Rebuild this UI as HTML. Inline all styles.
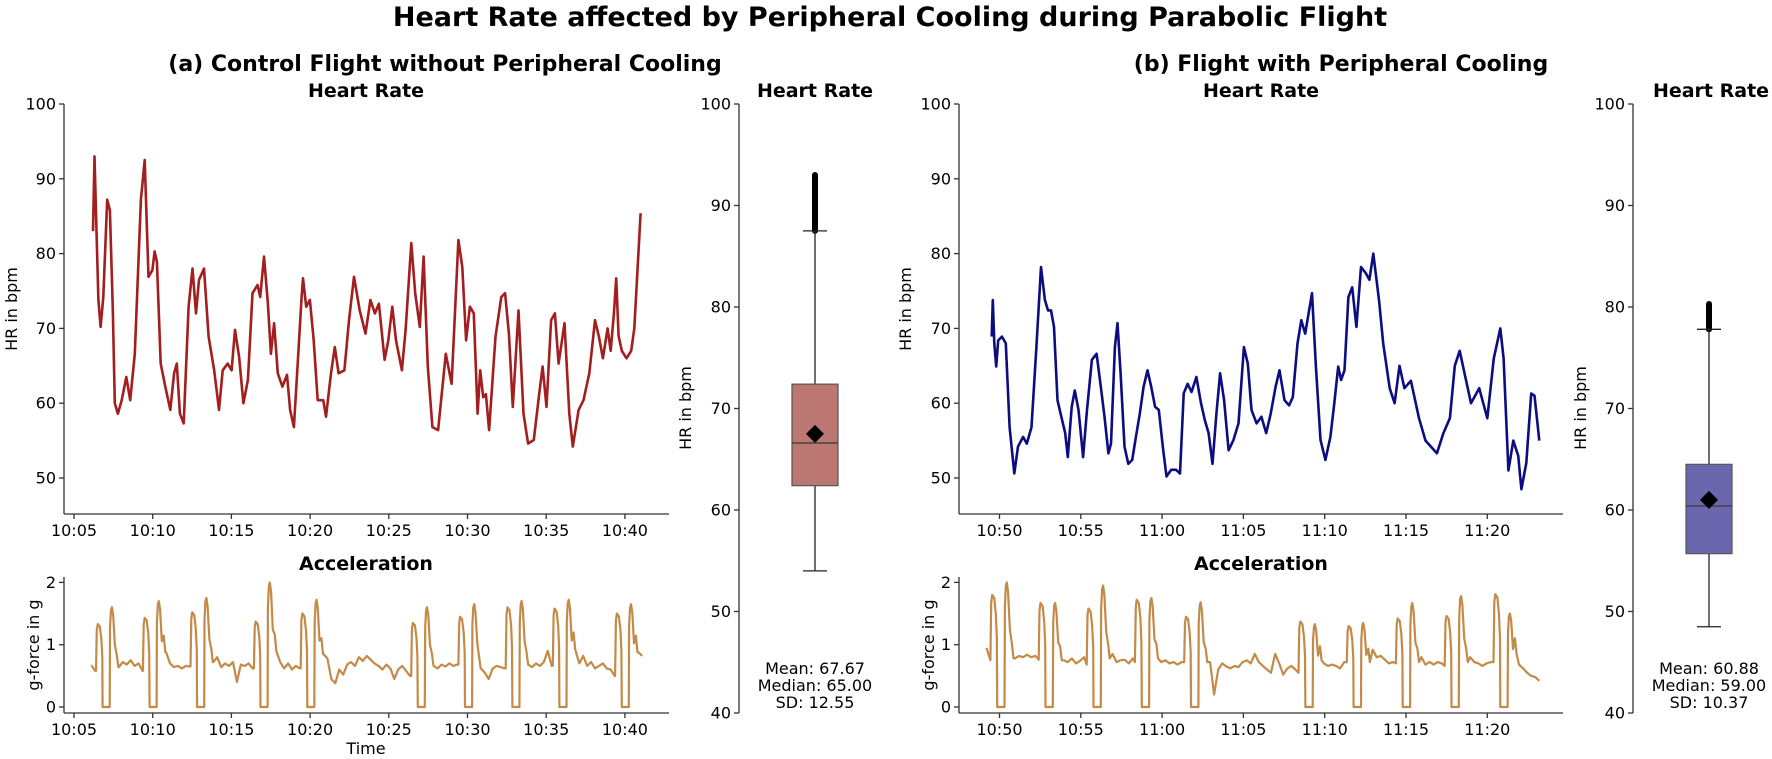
<!DOCTYPE html>
<html><head><meta charset="utf-8">
<style>
html,body{margin:0;padding:0;background:#fff;}
svg{display:block;font-family:"DejaVu Sans","Liberation Sans",sans-serif;}
.tk{font-size:16px;fill:#000;}
.ttl{font-weight:bold;fill:#000;}
</style></head>
<body>
<svg id="chart" width="1772" height="759" viewBox="0 0 1772 759" xmlns="http://www.w3.org/2000/svg">
<text class="ttl" x="890" y="26" text-anchor="middle" font-size="27">Heart Rate affected by Peripheral Cooling during Parabolic Flight</text>
<text class="ttl" x="445" y="71" text-anchor="middle" font-size="22">(a) Control Flight without Peripheral Cooling</text>
<text class="ttl" x="1341" y="71" text-anchor="middle" font-size="22">(b) Flight with Peripheral Cooling</text>
</svg>
<script>
// ---------- data ----------
const leftHrT=[6.21,6.30,6.43,6.55,6.69,6.86,7.11,7.28,7.47,7.59,7.79,8.03,8.32,8.57,8.86,9.25,9.49,9.73,9.98,10.12,10.27,10.51,10.80,11.12,11.36,11.53,11.73,11.97,12.28,12.53,12.75,12.94,13.26,13.55,13.91,14.21,14.45,14.76,15.01,15.23,15.49,15.76,16.05,16.34,16.66,16.83,17.07,17.32,17.51,17.71,17.95,18.24,18.53,18.73,18.97,19.21,19.46,19.55,19.75,19.99,20.23,20.48,20.84,21.01,21.33,21.57,21.81,22.18,22.47,22.79,23.15,23.52,23.83,24.12,24.37,24.73,24.97,25.22,25.46,25.83,26.07,26.43,26.68,26.97,27.21,27.48,27.77,28.13,28.62,28.99,29.42,29.67,29.91,30.15,30.40,30.64,30.81,31.00,31.17,31.37,31.78,32.15,32.39,32.63,32.88,33.24,33.56,33.85,34.21,34.53,34.77,35.02,35.31,35.55,35.79,36.16,36.47,36.69,37.06,37.37,37.74,38.10,38.35,38.6,38.9,39.1,39.3,39.45,39.6,39.8,40.1,40.4,40.6,41.0];
const leftHrV=[83,93,83,73.8,70.2,74.2,87.2,85.8,72,60,58.6,60.4,63.5,60.4,66.6,87.2,92.5,76.9,77.8,80.3,78.9,65.3,62.2,59.1,64,65.3,58.6,57.3,72.9,78,72,76.5,78,68.9,64.4,59.1,64.4,65.3,64.4,69.8,66.2,60,63.1,74.7,75.8,74.2,79.6,73.3,66.6,70.7,64,62.2,63.8,59.1,56.8,65.3,74.2,76.7,72.9,73.8,68.4,60.4,60.4,58.2,64,67.5,64,64.4,71.1,76.9,72.4,69.3,73.8,72,73.3,65.8,68.4,72.9,68.4,64.4,69.8,81.4,74.7,70.2,79.6,64.9,56.8,56.4,66.6,62.6,81.8,78.2,68.4,72.9,72,58.6,64.4,60.8,61.2,56.4,68.9,74.2,74.7,69.3,59.5,72.4,58.6,54.6,55.1,60.8,64.9,59.5,71.1,72,65.3,70.7,58.6,54.2,59.1,60.4,64,71.1,68.9,66,70,67,72,76.7,69,67,66,67,70,85.4];
const rightHrT=[49.52,49.59,49.68,49.80,49.92,50.15,50.39,50.62,50.91,51.14,51.45,51.68,51.97,52.27,52.55,52.79,52.98,53.17,53.35,53.57,53.80,54.04,54.20,54.44,54.63,54.86,55.14,55.38,55.68,55.97,56.23,56.46,56.70,56.86,57.10,57.26,57.45,57.69,57.92,58.16,58.39,58.63,58.86,59.10,59.33,59.57,59.80,60.04,60.27,60.56,60.86,61.10,61.33,61.57,61.81,62.11,62.39,62.63,62.86,63.10,63.34,63.57,63.81,64.09,64.39,64.70,65.03,65.27,65.50,65.81,66.11,66.40,66.68,66.98,67.22,67.53,67.81,68.04,68.33,68.56,68.80,69.22,69.46,69.74,70.04,70.35,70.59,70.83,71.01,71.22,71.46,71.69,71.95,72.23,72.52,72.75,72.99,73.34,73.6,74.0,74.3,74.6,74.9,75.3,75.8,76.2,76.9,77.3,77.7,78.0,78.3,78.5,79.0,79.5,80.0,80.4,80.8,81.0,81.3,81.6,81.9,82.1,82.4,82.7,82.9,83.2];
const rightHrV=[68.9,73.8,68,64.9,68.4,68.9,68,56.8,50.6,54.2,55.5,54.6,56.8,67.5,78.2,73.8,72.4,72.4,70.2,60.4,58.2,56,52.8,59.5,61.7,59.1,52.8,59.1,65.8,66.6,62.2,58.2,53.3,54.6,67.5,70.7,64,54.2,51.9,52.4,55.5,58.6,62.2,64.4,62.2,59.5,59.1,54.2,50.2,51.1,51.1,50.6,61.3,62.6,61.5,63.5,60,57.7,56,51.9,58.6,64,60.4,53.7,55.1,57.3,67.5,65.3,59.1,57.3,58.2,56,58.6,62.2,64.4,60.4,59.7,60.8,68,71.1,69.3,74.7,64.9,55.1,52.4,55.5,60,64.9,63.1,64.4,74.2,75.5,70.2,78.2,77.4,76.5,80,73.8,68,62,60,65,62,63,58,55,53.3,56,58,65,67,65,60,62,58,66,70,66,51,55,53,48.5,52,61.3,61,55];
// acceleration: zero-g start times (min past 10:00), pull-up peaks, pull-out peaks
const leftZeroStart=[6.82,9.8,12.82,16.85,19.82,26.84,29.84,32.85,35.84,39.8];
const leftPullUp=[1.33,1.43,1.52,1.37,1.5,1.35,1.45,1.6,1.58,1.5];
const leftPullOut=[1.6,1.7,1.75,2.0,1.72,1.6,1.65,1.7,1.72,1.65];
const leftBaseStart=6.1;
const leftBase=[.67,.58,.62,.65,.65,.65,.66,.64,.72,.68,.75,.66,.70,.58,.65,.65,.65,.65,.66,.88,.70,.64,.66,.62,.66,.65,.65,.65,.65,.65,.66,.72,.80,.64,.70,.66,.72,.40,.68,.66,.70,.62,.58,.65,.65,.65,.65,.90,.72,.62,.70,.60,.66,.62,.55,.65,.65,.65,.65,.85,.78,.45,.38,.60,.52,.68,.72,.66,.80,.74,.82,.76,.70,.66,.60,.68,.62,.45,.60,.66,.58,.50,.65,.65,.65,.65,.65,.66,.62,.68,.65,.70,.66,.68,.65,.65,.65,.65,.68,.62,.55,.45,.62,.66,.64,.62,.65,.65,.65,.65,.65,.68,.64,.70,.66,.72,.90,.66,.65,.65,.65,.65,.65,.92,.70,.82,.66,.72,.62,.66,.70,.62,.60,.50,.65,.65,.65,.65,.95,.88,.82];
const rightZeroStart=[49.86,52.83,55.78,58.75,61.78,68.81,71.78,74.8,77.8,80.8];
const rightPullUp=[1.8,1.67,1.58,1.72,1.45,1.37,1.3,1.42,1.46,1.81];
const rightPullOut=[2.0,1.67,1.95,1.75,1.68,1.33,1.35,1.67,1.78,1.5];
const rightBaseStart=49.2;
const rightBase=[.95,.75,.80,.80,.80,.80,.85,.78,.82,.80,.84,.80,.82,.76,.80,.80,.80,.80,.80,.75,.72,.78,.70,.74,.80,.68,.72,.72,.72,.72,.78,.85,.72,.75,.76,.70,.78,.72,.72,.72,.72,.72,.78,.72,.75,.70,.72,.68,.72,.72,.72,.72,.72,.72,.72,.72,.20,.60,.70,.65,.62,.66,.64,.72,.75,.70,.85,.72,.66,.60,.55,.85,.70,.52,.62,.66,.60,.55,.72,.72,.72,.72,.75,.70,.66,.68,.66,.62,.72,.72,.72,.72,.72,.72,.72,.92,.80,.82,.76,.70,.72,.70,.72,.72,.72,.72,.72,.80,.68,.72,.68,.72,.70,.66,.72,.72,.72,.72,.72,.80,.72,.70,.66,.70,.72,.72,.68,.72,.72,.72,.85,.68,.62,.55,.50,.48,.42];
// box plot stats: [whisker low, Q1, median, Q3, whisker high, mean, outlier max]
const leftBoxStats=[54,62.4,66.6,72.4,87.5,67.5,93];
const rightBoxStats=[48.5,55.7,60.4,64.5,77.8,61.0,80.3];
const leftStatsText=["Mean: 67.67","Median: 65.00","SD: 12.55"];
const rightStatsText=["Mean: 60.88","Median: 59.00","SD: 10.37"];
// ticks
const hrTicks=[50,60,70,80,90,100];
const boxTicks=[40,50,60,70,80,90,100];
const gTicks=[0,1,2];
const leftTimeTicks=[5,10,15,20,25,30,35,40];
const leftTimeLabels=["10:05","10:10","10:15","10:20","10:25","10:30","10:35","10:40"];
const rightTimeTicks=[50,55,60,65,70,75,80];
const rightTimeLabels=["10:50","10:55","11:00","11:05","11:10","11:15","11:20"];

// ---------- drawing ----------
const svg=document.getElementById('chart');
const NS='http://www.w3.org/2000/svg';
function el(tag,name,attrs,parent){
  const e=document.createElementNS(NS,tag);
  
  
  for(const k in attrs) e.setAttribute(k,attrs[k]);
  (parent||svg).appendChild(e);
  return e;
}
function txt(name,x,y,s,attrs){const t=el('text',name,Object.assign({x:x,y:y,'class':'tk'},attrs||{}));t.textContent=s;return t;}

const hrY=v=>104+(100-v)*7.48;
const gY=g=>707-62.3*g;
const boxY=v=>713-(v-40)*10.15;
const leftX=t=>74+(t-5)*15.74;
const rightX=t=>999.5+(t-50)*16.26;

function axes(pfx,x0,x1,y0,y1,yTicks,yFn,xTicks,xLabels,xFn,bottom){
  el('line',pfx+'-y-axis',{x1:x0,y1:y0,x2:x0,y2:y1,stroke:'#333','stroke-width':1.3});
  yTicks.forEach(v=>{const y=yFn(v);
    el('line',pfx+'-y-tick',{x1:x0-5,y1:y,x2:x0,y2:y,stroke:'#333','stroke-width':1.3});
    txt(pfx+'-y-tick-label',x0-8,y+5.5,String(v),{'text-anchor':'end'});});
  if(bottom){
    el('line',pfx+'-x-axis',{x1:x0,y1:y1,x2:x1,y2:y1,stroke:'#333','stroke-width':1.3});
    xTicks.forEach((t,i)=>{const x=xFn(t);
      el('line',pfx+'-x-tick',{x1:x,y1:y1,x2:x,y2:y1+5,stroke:'#333','stroke-width':1.3});
      txt(pfx+'-x-tick-label',x,y1+22,xLabels[i],{'text-anchor':'middle'});});
  }
}
function poly(name,ts,vs,xFn,yFn,color,w){
  const d=ts.map((t,i)=>(i?'L':'M')+xFn(t).toFixed(1)+' '+yFn(vs[i]).toFixed(1)).join(' ');
  el('path',name,{d:d,fill:'none',stroke:color,'stroke-width':w,'stroke-linejoin':'round'});
}
function accelSeries(zs,pre,post,baseStart,base){
  const pts=[];
  const inWin=t=>zs.some(z=>t>=z-0.42&&t<=z+1.0);
  base.forEach((v,i)=>{const t=baseStart+0.25*i; if(!inWin(t)) pts.push([t,v]);});
  const bAt=t=>base[Math.max(0,Math.min(base.length-1,Math.round((t-baseStart)/0.25)))];
  zs.forEach((z,i)=>{const p=pre[i],q=post[i];
    pts.push([z-0.42,bAt(z-0.42)],[z-0.37,p*0.93],[z-0.31,p],[z-0.18,p*0.97],[z-0.08,p*0.82],[z-0.02,p*0.6],[z,0],[z+0.45,0],[z+0.47,q*0.8],[z+0.53,q*0.97],[z+0.59,q],[z+0.67,q*0.92],[z+0.78,q*0.62],[z+0.9,bAt(z+1)*1.3],[z+1.0,bAt(z+1)]);
  });
  pts.sort((a,b)=>a[0]-b[0]);
  return pts;
}
function box(pfx,cx,half,st,fill,texts){
  const [lo,q1,med,q3,hi,mean,omax]=st;
  el('line',pfx+'-outliers',{x1:cx,y1:boxY(hi),x2:cx,y2:boxY(omax),stroke:'#000','stroke-width':6,'stroke-linecap':'round'});
  el('line',pfx+'-whisker-high',{x1:cx,y1:boxY(q3),x2:cx,y2:boxY(hi),stroke:'#222','stroke-width':1.3});
  el('line',pfx+'-whisker-low',{x1:cx,y1:boxY(q1),x2:cx,y2:boxY(lo),stroke:'#222','stroke-width':1.3});
  el('line',pfx+'-cap-high',{x1:cx-12,y1:boxY(hi),x2:cx+12,y2:boxY(hi),stroke:'#222','stroke-width':1.3});
  el('line',pfx+'-cap-low',{x1:cx-12,y1:boxY(lo),x2:cx+12,y2:boxY(lo),stroke:'#222','stroke-width':1.3});
  el('rect',pfx+'-box',{x:cx-half,y:boxY(q3),width:2*half,height:boxY(q1)-boxY(q3),fill:fill,stroke:'#555','stroke-width':1.2});
  el('line',pfx+'-median',{x1:cx-half,y1:boxY(med),x2:cx+half,y2:boxY(med),stroke:'#444','stroke-width':1.5});
  const my=boxY(mean);
  el('path',pfx+'-mean-marker',{d:`M${cx} ${my-9}L${cx+9} ${my}L${cx} ${my+9}L${cx-9} ${my}Z`,fill:'#000'});
  texts.forEach((s,i)=>txt(pfx+'-stats-line',cx,674+17*i,s,{'text-anchor':'middle','font-size':'14'}));
}

// ---- left panel (a) ----
axes('left-hr',64,669,104,514,hrTicks,hrY,leftTimeTicks,leftTimeLabels,leftX,true);
poly('left-hr-line',leftHrT,leftHrV,leftX,hrY,'#a31e1e',2.6);
txt('left-hr-title',366,97,'Heart Rate',{'class':'ttl','text-anchor':'middle','font-size':'19'});
txt('left-hr-y-title',0,0,'HR in bpm',{'text-anchor':'middle',transform:'translate(17,309) rotate(-90)'});
axes('left-acc',64,669,577,713,gTicks,gY,leftTimeTicks,leftTimeLabels,leftX,true);
const la=accelSeries(leftZeroStart,leftPullUp,leftPullOut,leftBaseStart,leftBase);
poly('left-acc-line',la.map(p=>p[0]),la.map(p=>p[1]),leftX,gY,'#c48a47',2.2);
txt('left-acc-title',366,570,'Acceleration',{'class':'ttl','text-anchor':'middle','font-size':'19'});
txt('left-acc-y-title',0,0,'g-force in g',{'text-anchor':'middle',transform:'translate(39,645) rotate(-90)'});
txt('left-x-title',366,754,'Time',{'text-anchor':'middle'});
axes('left-box',739,0,104,713,boxTicks,boxY,[],[],null,false);
box('left-box',815,23,leftBoxStats,'#bd7773',leftStatsText);
txt('left-box-title',815,97,'Heart Rate',{'class':'ttl','text-anchor':'middle','font-size':'19'});
txt('left-box-y-title',0,0,'HR in bpm',{'text-anchor':'middle',transform:'translate(691,408) rotate(-90)'});

// ---- right panel (b) ----
axes('right-hr',959,1563,104,514,hrTicks,hrY,rightTimeTicks,rightTimeLabels,rightX,true);
poly('right-hr-line',rightHrT,rightHrV,rightX,hrY,'#0d0d82',2.6);
txt('right-hr-title',1261,97,'Heart Rate',{'class':'ttl','text-anchor':'middle','font-size':'19'});
txt('right-hr-y-title',0,0,'HR in bpm',{'text-anchor':'middle',transform:'translate(911,309) rotate(-90)'});
axes('right-acc',959,1563,577,713,gTicks,gY,rightTimeTicks,rightTimeLabels,rightX,true);
const ra=accelSeries(rightZeroStart,rightPullUp,rightPullOut,rightBaseStart,rightBase);
poly('right-acc-line',ra.map(p=>p[0]),ra.map(p=>p[1]),rightX,gY,'#c48a47',2.2);
txt('right-acc-title',1261,570,'Acceleration',{'class':'ttl','text-anchor':'middle','font-size':'19'});
txt('right-acc-y-title',0,0,'g-force in g',{'text-anchor':'middle',transform:'translate(934,645) rotate(-90)'});
axes('right-box',1633,0,104,713,boxTicks,boxY,[],[],null,false);
box('right-box',1709,23,rightBoxStats,'#6a67ae',rightStatsText);
txt('right-box-title',1711,97,'Heart Rate',{'class':'ttl','text-anchor':'middle','font-size':'19'});
txt('right-box-y-title',0,0,'HR in bpm',{'text-anchor':'middle',transform:'translate(1586,408) rotate(-90)'});
</script>
</body></html>
